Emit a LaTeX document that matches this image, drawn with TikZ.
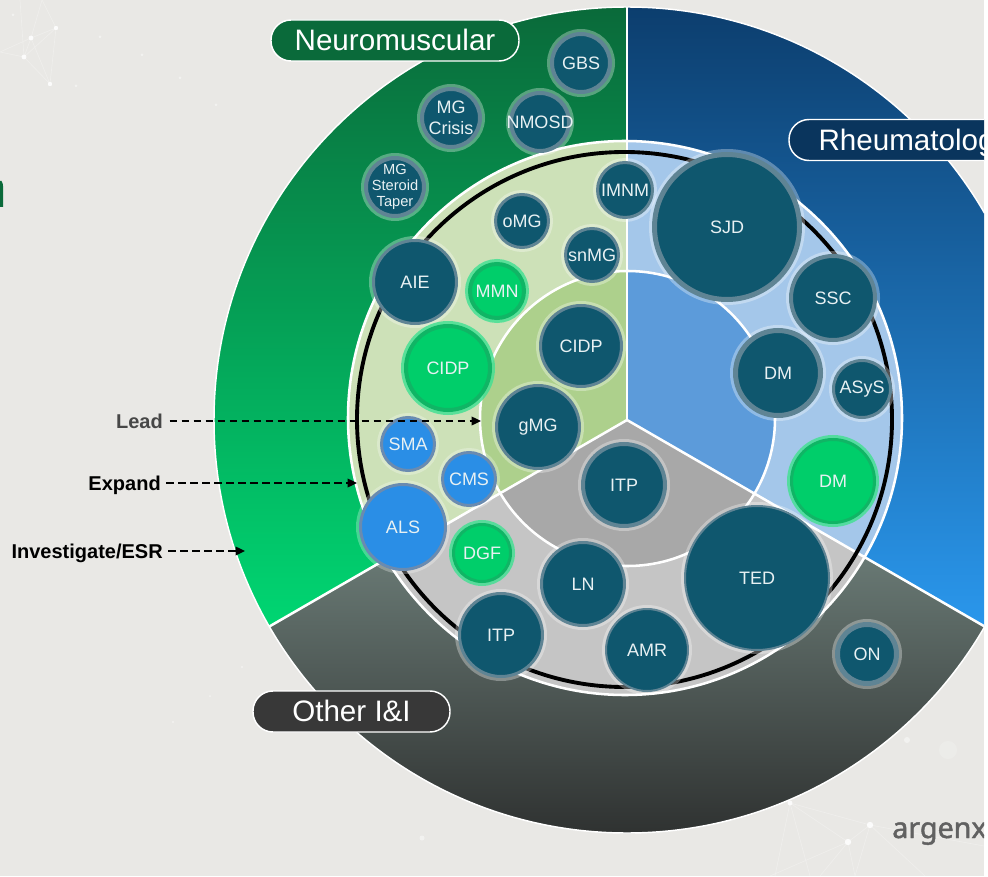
\documentclass[tikz,border=0pt]{standalone}
\usepackage{fontspec}
\setmainfont{Liberation Sans}
\newfontfamily\argfont[FakeBold=1.6]{Noto Sans}
\usetikzlibrary{arrows.meta}
\definecolor{bgc}{HTML}{E9E8E5}
\definecolor{nmTop}{HTML}{0A6A3A}
\definecolor{nmBot}{HTML}{00D672}
\definecolor{rhTop}{HTML}{0C3E6E}
\definecolor{rhBot}{HTML}{2A97EC}
\definecolor{otTop}{HTML}{859C95}
\definecolor{otBot}{HTML}{232323}
\definecolor{midG}{HTML}{CDE1B8}
\definecolor{innG}{HTML}{ADD08C}
\definecolor{midB}{HTML}{A4C7EA}
\definecolor{innB}{HTML}{5C9BDA}
\definecolor{midO}{HTML}{C5C5C5}
\definecolor{innO}{HTML}{A8A8A8}
\definecolor{tealF}{HTML}{0F576E}
\definecolor{tealR}{HTML}{5F8494}
\definecolor{greenF}{HTML}{00CE6A}
\definecolor{greenR}{HTML}{10B565}
\definecolor{greenH}{HTML}{45E094}
\definecolor{blueF}{HTML}{2A8EE6}
\definecolor{blueR}{HTML}{6A8BB0}
\definecolor{txtB}{HTML}{E8F1F3}
\newcommand{\tfs}{\fontsize{11}{12}\selectfont}
\tikzset{
  bubT/.style={fill=tealF,draw=tealR,haloc/.style={draw=white,draw opacity=.32}},
  bubG/.style={fill=greenF,draw=greenR,haloc/.style={draw=greenH,draw opacity=.85}},
  bubB/.style={fill=blueF,draw=blueR,haloc/.style={draw=white,draw opacity=.28}},
  bubText/.style={inner sep=0pt,text=txtB,align=center,font=\fontsize{13.5}{16}\selectfont},
  pill/.style={draw=white,line width=1.1pt,text=white,minimum height=30.75pt,rounded corners=15pt,inner sep=0pt,text height=15.7pt,text depth=0pt,font=\fontsize{22.2}{24}\selectfont},
  sideLbl/.style={anchor=east,inner sep=0pt,font=\fontsize{15}{18}\selectfont\bfseries},
  leader/.style={draw=black,line width=.95pt,dash pattern=on 5.6pt off 3.4pt,-{Triangle[length=7pt,width=6.5pt]}},
  sepLine/.style={draw=white,line width=1.9pt},
  netLine/.style={draw=white,draw opacity=.28,line width=.5pt},
  netDot/.style={fill=white,fill opacity=.85}
}
\newcommand{\bub}[7]{%
  \pgfmathsetmacro{\Rr}{(#4-3)}%
  \pgfmathsetmacro{\Rm}{(\Rr+#5)/2}%
  \pgfmathsetmacro{\dia}{2*\Rm*0.75}%
  \pgfmathsetmacro{\lw}{(\Rr-#5)*0.75}%
  \pgfmathsetmacro{\hw}{2*(#4-\Rm)*0.75}%
  \node[circle,inner sep=0pt,minimum size=\dia pt,line width=\lw pt,#6,
        preaction={haloc,line width=\hw pt}] (#1) at (#2,{876-#3}) {};
  \node[bubText] (#1t) at (#1.center) {#7};}
\begin{document}
\begin{tikzpicture}[x=.75pt,y=.75pt]
\useasboundingbox (0,0) rectangle (988,876);
\begin{scope}
\clip (0,0) rectangle (984,876);
\fill[bgc] (0,0) rectangle (984,876);
% faint network
\coordinate (n1) at (31,838); \coordinate (n2) at (56,848); \coordinate (n3) at (24,819);
\coordinate (n4) at (50,792); \coordinate (n5) at (20,876); \coordinate (n6) at (42,876); \coordinate (n7) at (0,824);
\coordinate (m1) at (790,73); \coordinate (m2) at (870,51); \coordinate (m3) at (848,34);
\draw[netLine] (n1)--(n2)--(n4)--(n3)--(n1)--(n4) (n3)--(n2) (n1)--(n6) (n2)--(n6) (n3)--(n5) (n7)--(n1) (n7)--(n3);
\draw[netLine] (m1)--(m2)--(m3)--(m1) (m1)--(810,0) (m1)--(775,0) (m3)--(820,0) (m3)--(770,0) (m3)--(855,0) (m2)--(855,0) (m2)--(925,0) (m2)--(984,30);
\foreach \p/\r in {n1/2.4,n2/2.2,n3/2.4,n4/2.2,m2/3.2,m3/3.2,m1/2.4}{\fill[netDot] (\p) circle (\r);}
\foreach \x/\y/\r in {13/861/1.5,100/839/1.5,142/821/1.5,180/798/1.5,216/771/1.5,76/790/1.5,242/209/1.2,210/180/1,173/154/1.2,422/38/2.5,907/136/3}{\fill[white,fill opacity=.45] (\x,\y) circle (\r);}
\fill[white,fill opacity=.18] (948,126) circle (9);
% outer sectors
\coordinate (C) at (627,456);
\shade[top color=nmTop,bottom color=nmBot] (C) -- ++(90:413) arc (90:210:413) -- cycle;
\shade[top color=rhTop,bottom color=rhBot] (C) -- ++(90:413) arc (90:-30:413) -- cycle;
\shade[top color=otTop,bottom color=otBot] (C) -- ++(210:413) arc (210:330:413) -- cycle;
\draw[draw=white,line width=1.1pt] (C) circle (413);
% middle ring
\coordinate (Cm) at (625,458);
\begin{scope}
\clip (Cm) circle (277);
\fill[midG] (C) -- ++(90:420) arc (90:210:420) -- cycle;
\fill[midB] (C) -- ++(90:420) arc (90:-30:420) -- cycle;
\fill[midO] (C) -- ++(210:420) arc (210:330:420) -- cycle;
\end{scope}
\draw[sepLine] (Cm) circle (277);
% inner disc
\coordinate (Ci) at (627.5,457.5);
\begin{scope}
\clip (Ci) circle (147.5);
\fill[innG] (C) -- ++(90:200) arc (90:210:200) -- cycle;
\fill[innB] (C) -- ++(90:200) arc (90:-30:200) -- cycle;
\fill[innO] (C) -- ++(210:200) arc (210:330:200) -- cycle;
\end{scope}
\draw[sepLine] (Ci) circle (147.5);
% separators
\draw[sepLine] (C) -- ++(90:413);
\draw[sepLine] (C) -- ++(210:413);
\draw[sepLine] (C) -- ++(330:413);
% black ring
\coordinate (Cb) at (624.5,456.5);
\draw[black,line width=2.9pt] (Cb) circle (267.5);
% clipped fragment at the left edge
\fill[nmTop] (0,695) -- (1.5,695) .. controls (3,693) and (3,691) .. (3.2,688) -- (3.2,669) -- (0,669) -- cycle;
% bubbles
\bub{gbs}{581}{63}{34}{27}{bubT}{GBS}
\bub{crisis}{451}{118}{34}{27}{bubT}{MG\\Crisis}
\bub{nmosd}{540}{122}{34}{27}{bubT}{NMOSD}
\bub{taper}{395}{187}{34}{27}{bubT}{\tfs MG\\[-4pt]\tfs Steroid\\[-4pt]\tfs Taper}
\bub{imnm}{625}{190}{32}{26}{bubT}{IMNM}
\bub{omg}{522}{221}{31}{25}{bubT}{oMG}
\bub{snmg}{592}{255}{31}{25}{bubT}{snMG}
\bub{aie}{415}{282}{46}{40}{bubT}{AIE}
\bub{mmn}{497}{291}{32}{25}{bubG}{MMN}
\bub{cidpg}{448}{368}{47}{40}{bubG}{CIDP}
\bub{cidp}{581}{346}{45}{39}{bubT}{CIDP}
\bub{gmg}{538}{427}{46}{40}{bubT}{gMG}
\bub{sma}{408}{444}{31}{25}{bubB}{SMA}
\bub{cms}{469}{479}{31}{25}{bubB}{CMS}
\bub{als}{403}{527}{47}{41}{bubB}{ALS}
\bub{dgf}{482}{553}{33}{27}{bubG}{DGF}
\bub{itpa}{624}{485}{46}{39}{bubT}{ITP}
\bub{ln}{583}{584}{46}{40}{bubT}{LN}
\bub{itpb}{501}{635}{46}{40}{bubT}{ITP}
\bub{amr}{647}{650}{45}{40}{bubT}{AMR}
\bub{ted}{757}{578}{76}{71}{bubT}{TED}
\bub{on}{867}{654}{35}{27}{bubT}{ON}
\bub{sjd}{727}{227}{78}{70}{bubT}{SJD}
\bub{ssc}{833}{298}{47}{40}{bubT}{SSC}
\bub{dmt}{778}{373}{48}{40}{bubT}{DM}
\bub{asys}{862}{389}{33}{27}{bubT}{ASyS}
\bub{dmg}{833}{481}{46}{40}{bubG}{DM}
% category pills
\node[pill,fill=nmTop,minimum width=186pt] (neuro) at (395,835.5) {Neuromuscular};
\node[pill,fill=rhTop!85!black,minimum width=187.5pt] (rheum) at (914,736) {Rheumatology};
\node[pill,fill=black!78,minimum width=147.75pt] (other) at (351.5,164.5) {Other I\&I};
% argenx wordmark
\node[anchor=base west,inner sep=0pt,text=black!62,font=\argfont\fontsize{21.5}{24}\selectfont] (brand) at (892,38) {argenx};
\end{scope}
% side labels and leaders
\node[sideLbl,text=black!72] (lead) at (163,455) {Lead};
\node[sideLbl,text=black] (expand) at (161,390.5) {Expand};
\node[sideLbl,text=black] (invest) at (163,322.5) {Investigate/ESR};
\coordinate (leadEnd) at (481,455);
\coordinate (expandEnd) at (357,393);
\coordinate (investEnd) at (245,325);
\draw[leader,shorten <=5pt] (lead.east) -- (leadEnd);
\draw[leader,shorten <=4pt] (expand.east |- expandEnd) -- (expandEnd);
\draw[leader,shorten <=4pt] (invest.east |- investEnd) -- (investEnd);
\end{tikzpicture}
\end{document}
